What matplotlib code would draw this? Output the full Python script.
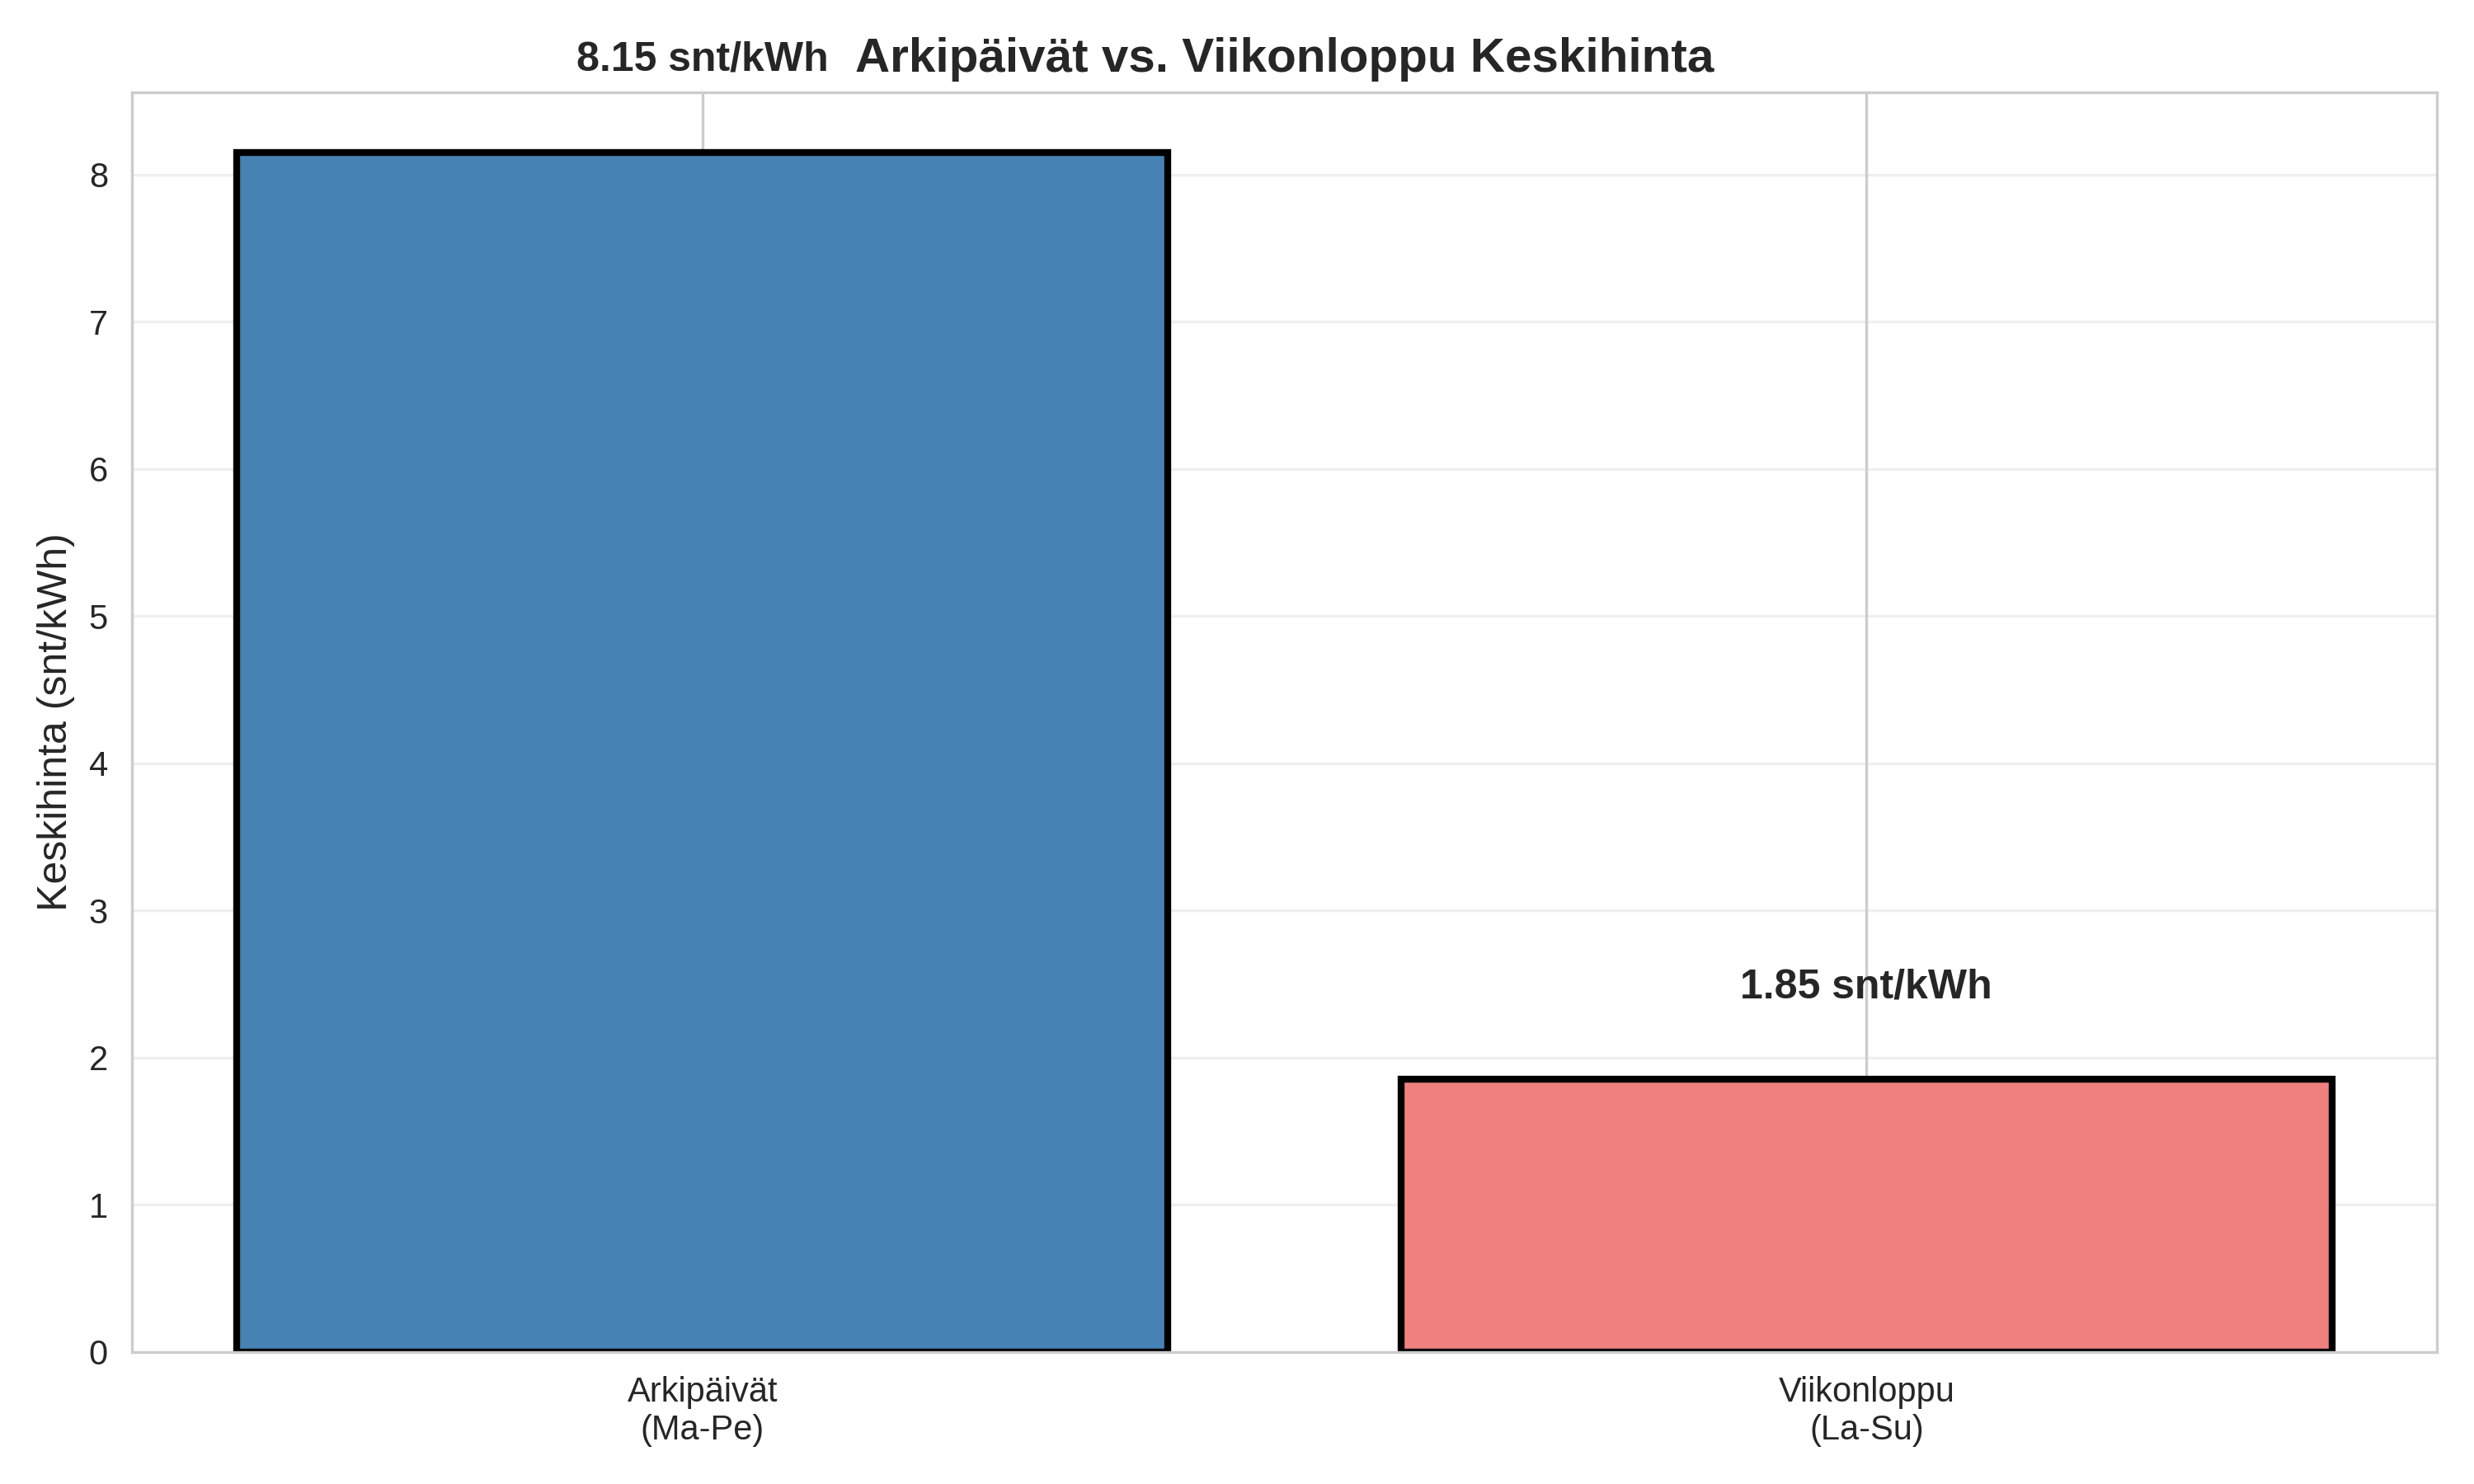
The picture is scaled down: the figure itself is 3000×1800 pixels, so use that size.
import matplotlib
matplotlib.use("Agg")
import matplotlib.pyplot as plt
import seaborn as sns

categories = ["Arkipäivät\n(Ma-Pe)", "Viikonloppu\n(La-Su)"]
prices = [8.15, 1.85]
colors = ["steelblue", "lightcoral"]

sns.set_style("whitegrid")
plt.rcParams["font.family"] = ["Liberation Sans", "DejaVu Sans"]

fig, ax = plt.subplots(figsize=(10, 6), dpi=300)
bars = ax.bar(categories, prices, color=colors, edgecolor="black", linewidth=2)

for bar, val in zip(bars, prices):
    ax.text(bar.get_x() + bar.get_width() / 2, val + 0.5, f"{val:.2f} snt/kWh",
            ha="center", va="bottom", fontsize=12, fontweight="bold")

ax.set_ylabel("Keskihinta (snt/kWh)", fontsize=12)
ax.set_title("Arkipäivät vs. Viikonloppu Keskihinta", fontsize=14, fontweight="bold")
ax.grid(axis="y", alpha=0.3)

plt.tight_layout()
plt.savefig("out.png", dpi=300)
